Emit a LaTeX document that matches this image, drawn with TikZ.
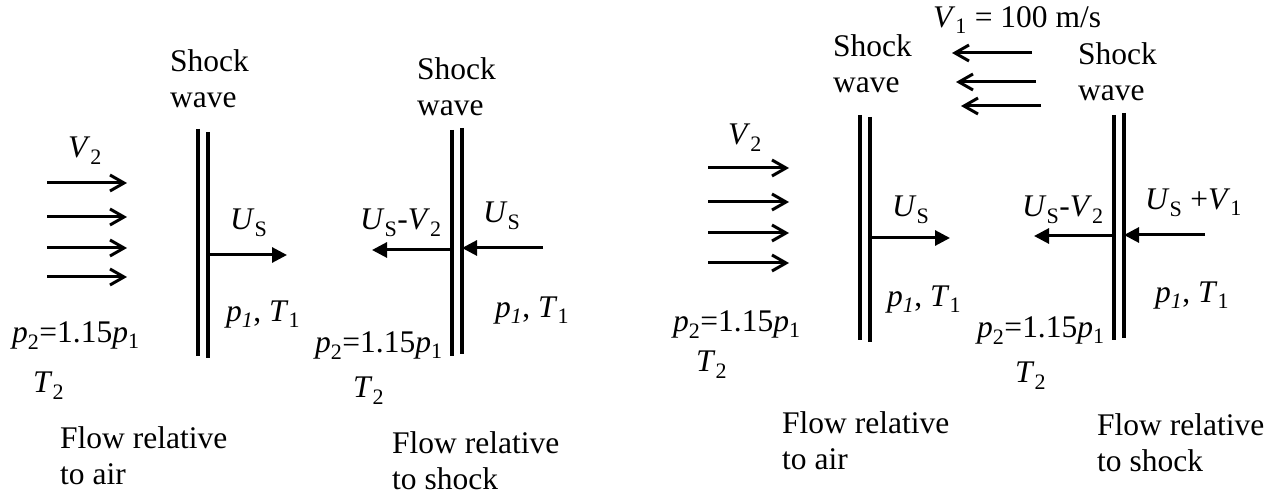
\documentclass[tikz,border=0pt]{standalone}
\usepackage{fontspec}
\setmainfont{Liberation Serif}
\usetikzlibrary{arrows.meta}

\begin{document}
\begin{tikzpicture}[
  x=1pt, y=-1pt,
  font=\fontsize{31.5}{36}\selectfont,
  lbl/.style={anchor=base west, inner sep=0pt},
  blk/.style={anchor=north west, inner sep=0pt, align=left},
  wall/.style={line width=4pt},
  flow/.style={line width=3pt, -{Straight Barb[length=14pt,width=16pt]}},
  vel/.style={line width=3pt, -{Triangle[length=15pt,width=15pt]}}
]
  \useasboundingbox (0,0) rectangle (1278,494);

  % Flow relative to air, first case
  \node[blk] (shockA) at (170,49) {Shock\\wave};
  \draw[wall] (198,129) -- (198,356);
  \draw[wall] (208,132) -- (208,358);
  \node[lbl] (vtwoA) at (68,158) {\textit{V}\textsubscript{2}};
  \foreach \i/\y in {1/183,2/217,3/248,4/277} {
    \coordinate (inA\i) at (47,\y);
    \coordinate (outA\i) at (127,\y);
    \draw[flow] (inA\i) -- (outA\i);
  }
  \node[lbl] (usA) at (230,230) {\textit{U}\textsubscript{S}};
  \coordinate (wallA) at (208,255);
  \coordinate (tipA) at (287,255);
  \draw[vel] (wallA) -- (tipA);
  \node[lbl] (oneA) at (226,322) {\textit{p}\textsubscript{\textit{1}}, \textit{T}\textsubscript{1}};
  \node[lbl] (ptwoA) at (12,343) {\textit{p}\textsubscript{2}=1.15\textit{p}\textsubscript{1}};
  \node[lbl] (ttwoA) at (33,393) {\textit{T}\textsubscript{2}};
  \node[blk] (capA) at (60,426.5) {Flow relative\\to air};

  % Flow relative to shock, first case
  \node[blk] (shockB) at (417,57) {Shock\\wave};
  \draw[wall] (452,130) -- (452,356);
  \draw[wall] (462,128) -- (462,354);
  \node[lbl] (relB) at (360,230) {\textit{U}\textsubscript{S}-\textit{V}\textsubscript{2}};
  \coordinate (wallBl) at (452,250);
  \coordinate (tipBl) at (372,250);
  \draw[vel] (wallBl) -- (tipBl);
  \node[lbl] (usB) at (483,223) {\textit{U}\textsubscript{S}};
  \coordinate (inB) at (543,248);
  \coordinate (wallBr) at (462,248);
  \draw[vel] (inB) -- (wallBr);
  \node[lbl] (oneB) at (495,318) {\textit{p}\textsubscript{\textit{1}}, \textit{T}\textsubscript{1}};
  \node[lbl] (ptwoB) at (315,353) {\textit{p}\textsubscript{2}=1.15\textit{p}\textsubscript{1}};
  \node[lbl] (ttwoB) at (353,398) {\textit{T}\textsubscript{2}};
  \node[blk] (capB) at (392,431.5) {Flow relative\\to shock};

  % Flow relative to air, moving air
  \node[lbl] (vone) at (933,28) {\textit{V}\textsubscript{1} = 100 m/s};
  \foreach \i/\xa/\xb/\y in {1/1032/952/53,2/1036/956/82,3/1041/961/106} {
    \coordinate (inV\i) at (\xa,\y);
    \coordinate (outV\i) at (\xb,\y);
    \draw[flow] (inV\i) -- (outV\i);
  }
  \node[blk] (shockC) at (833,34) {Shock\\wave};
  \draw[wall] (860,115) -- (860,340);
  \draw[wall] (870,117) -- (870,342);
  \node[lbl] (vtwoC) at (728,145) {\textit{V}\textsubscript{2}};
  \foreach \i/\y in {1/168,2/202,3/233,4/263} {
    \coordinate (inC\i) at (708,\y);
    \coordinate (outC\i) at (789,\y);
    \draw[flow] (inC\i) -- (outC\i);
  }
  \node[lbl] (usC) at (892,217) {\textit{U}\textsubscript{S}};
  \coordinate (wallC) at (870,238);
  \coordinate (tipC) at (950,238);
  \draw[vel] (wallC) -- (tipC);
  \node[lbl] (oneC) at (887,307) {\textit{p}\textsubscript{\textit{1}}, \textit{T}\textsubscript{1}};
  \node[lbl] (ptwoC) at (673,332) {\textit{p}\textsubscript{2}=1.15\textit{p}\textsubscript{1}};
  \node[lbl] (ttwoC) at (696,372) {\textit{T}\textsubscript{2}};
  \node[blk] (capC) at (782,411.5) {Flow relative\\to air};

  % Flow relative to shock, moving air
  \node[blk] (shockD) at (1078,42) {Shock\\wave};
  \draw[wall] (1114,115) -- (1114,340);
  \draw[wall] (1124,113) -- (1124,338);
  \node[lbl] (relD) at (1022,217) {\textit{U}\textsubscript{S}-\textit{V}\textsubscript{2}};
  \coordinate (wallDl) at (1114,236);
  \coordinate (tipDl) at (1034,236);
  \draw[vel] (wallDl) -- (tipDl);
  \node[lbl] (usD) at (1145,210) {\textit{U}\textsubscript{S} +\textit{V}\textsubscript{1}};
  \coordinate (inD) at (1205,235);
  \coordinate (wallDr) at (1124,235);
  \draw[vel] (inD) -- (wallDr);
  \node[lbl] (oneD) at (1155,303) {\textit{p}\textsubscript{\textit{1}}, \textit{T}\textsubscript{1}};
  \node[lbl] (ptwoD) at (977,338) {\textit{p}\textsubscript{2}=1.15\textit{p}\textsubscript{1}};
  \node[lbl] (ttwoD) at (1015,383) {\textit{T}\textsubscript{2}};
  \node[blk] (capD) at (1097,413.5) {Flow relative\\to shock};
\end{tikzpicture}
\end{document}
